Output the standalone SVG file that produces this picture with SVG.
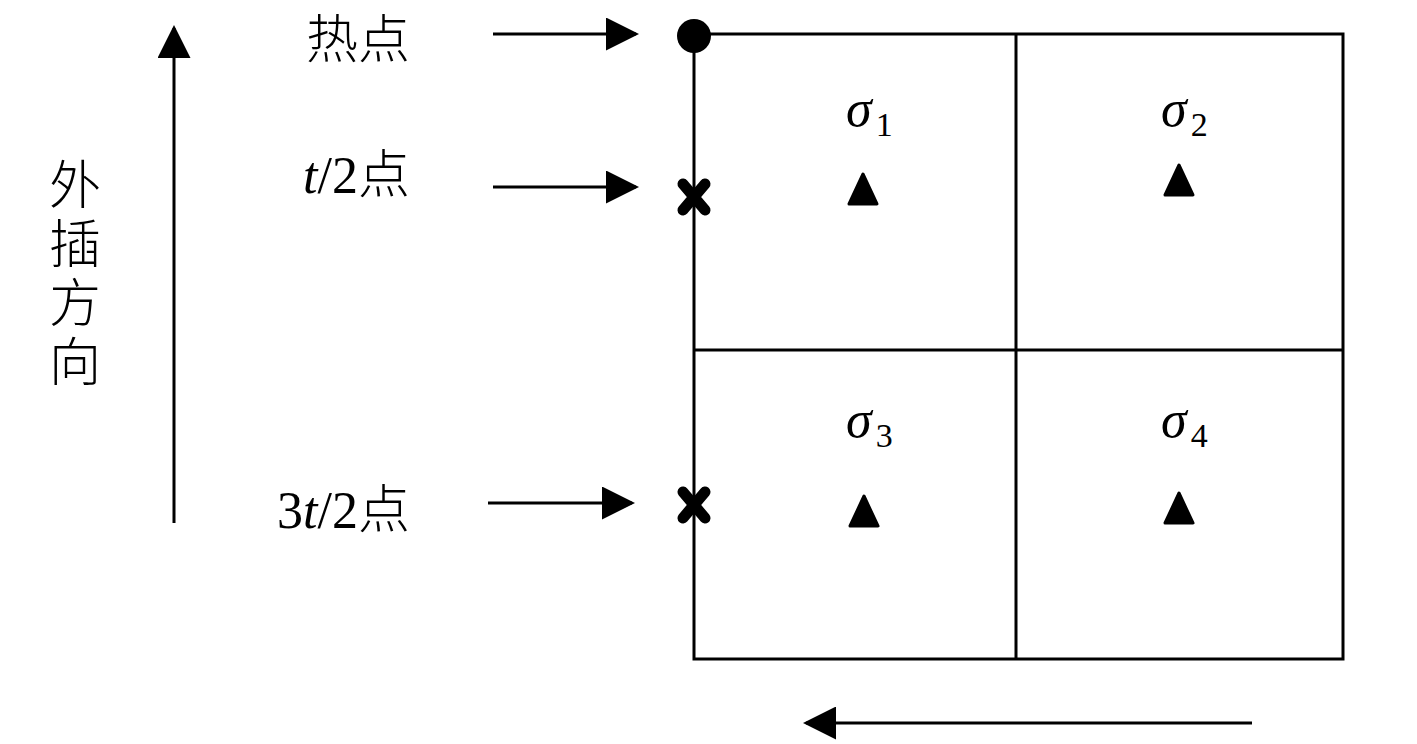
<svg xmlns="http://www.w3.org/2000/svg" width="1417" height="744" viewBox="0 0 1417 744">
<style>
.ln{stroke:#000;stroke-width:3;fill:none}
.lbl{font-family:"Liberation Serif","Noto Sans CJK SC",serif;font-size:52px;fill:#000}
.cjk{font-family:"Noto Sans CJK SC",sans-serif;font-size:52px;fill:#000;font-weight:300}
.sig{font-family:"Liberation Serif",serif;font-size:52px;font-style:italic;fill:#000}
.sub{font-family:"Liberation Serif",serif;font-size:34px;font-style:normal}
</style>
<defs>
<marker id="ah" markerWidth="11" markerHeight="11" refX="10" refY="5.5" orient="auto" markerUnits="strokeWidth">
<path d="M0,0 L11,5.5 L0,11 Z" fill="#000"/>
</marker>
<path id="x" d="M-11,-13 L11,13 M11,-13 L-11,13" stroke="#000" stroke-width="11" stroke-linecap="round"/>
<path id="t" d="M0,-16 L14,14 L-14,14 Z" fill="#000" stroke="#000" stroke-width="3" stroke-linejoin="round"/>
</defs>
<g id="grid">
<rect x="694" y="34" width="649" height="625" class="ln"/>
<line x1="1016" y1="34" x2="1016" y2="659" class="ln"/>
<line x1="694" y1="350" x2="1343" y2="350" class="ln"/>
</g>
<g id="cells">
<g id="cell1"><text x="846" y="126" class="sig">σ<tspan class="sub" dx="4" dy="10">1</tspan></text><use href="#t" x="863" y="190"/></g>
<g id="cell2"><text x="1161" y="126" class="sig">σ<tspan class="sub" dx="4" dy="10">2</tspan></text><use href="#t" x="1179" y="181"/></g>
<g id="cell3"><text x="846" y="437" class="sig">σ<tspan class="sub" dx="4" dy="10">3</tspan></text><use href="#t" x="864" y="512"/></g>
<g id="cell4"><text x="1161" y="437" class="sig">σ<tspan class="sub" dx="4" dy="10">4</tspan></text><use href="#t" x="1179" y="509"/></g>
</g>
<g id="points">
<circle id="hot" cx="694" cy="36" r="17" fill="#000"/>
<use id="half" href="#x" x="694" y="197"/>
<use id="threehalf" href="#x" x="694" y="505"/>
</g>
<g id="labels">
<text x="410" y="58" text-anchor="end" class="cjk">热点</text>
<text x="410" y="193" text-anchor="end" class="lbl"><tspan font-style="italic">t</tspan>/2<tspan class="cjk">点</tspan></text>
<text x="410" y="528" text-anchor="end" class="lbl">3<tspan font-style="italic">t</tspan>/2<tspan class="cjk">点</tspan></text>
<text id="direction" x="75" y="158" class="cjk" writing-mode="vertical-rl" style="text-orientation:upright" letter-spacing="7">外插方向</text>
</g>
<g id="connectors">
<line x1="493" y1="34" x2="636" y2="34" class="ln" marker-end="url(#ah)"/>
<line x1="493" y1="187" x2="636" y2="187" class="ln" marker-end="url(#ah)"/>
<line x1="488" y1="503" x2="632" y2="503" class="ln" marker-end="url(#ah)"/>
<line x1="174" y1="523" x2="174" y2="28" class="ln" marker-end="url(#ah)"/>
<line x1="1252" y1="723" x2="806" y2="723" class="ln" marker-end="url(#ah)"/>
</g>
</svg>
